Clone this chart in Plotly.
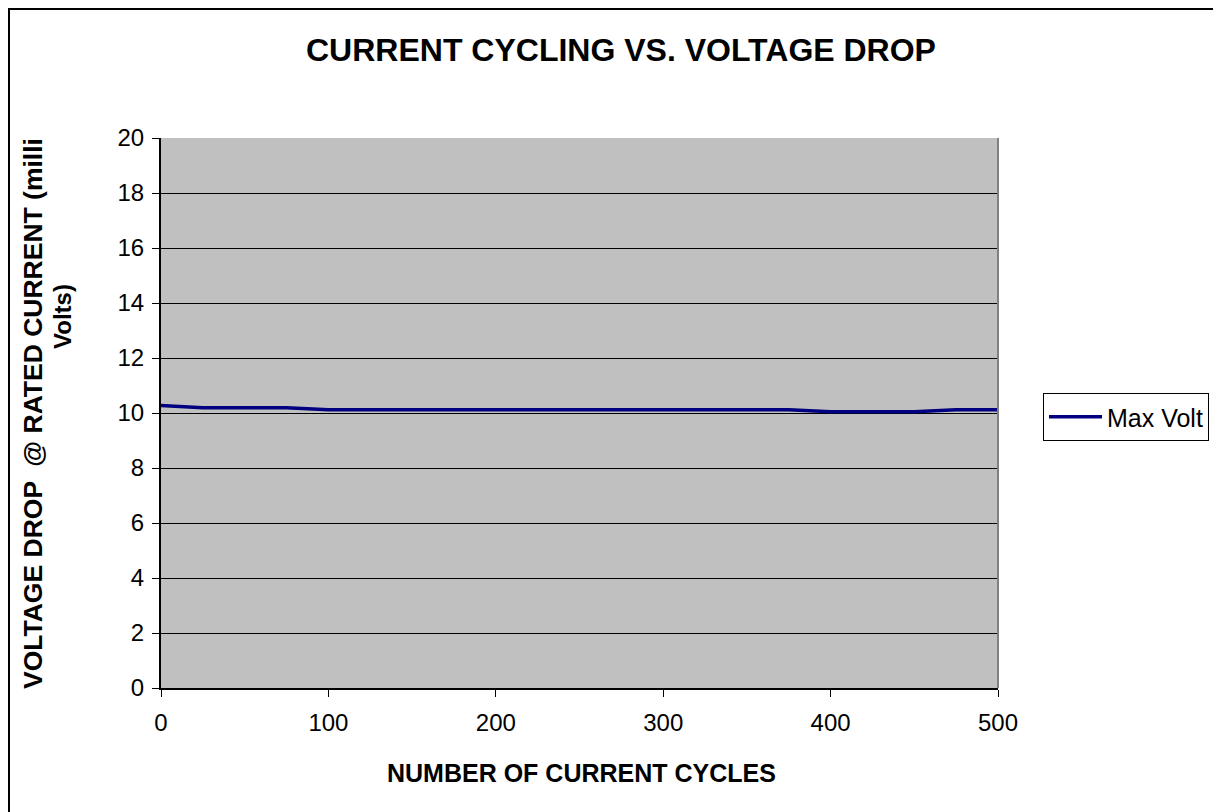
import plotly.graph_objects as go

cycles = [0, 25, 50, 75, 100, 125, 150, 175, 200, 225, 250, 275, 300, 325, 350, 375, 400, 425, 450, 475, 500]
max_volt = [10.27, 10.19, 10.19, 10.19, 10.12, 10.12, 10.12, 10.12, 10.12, 10.12, 10.12, 10.12, 10.12,
            10.12, 10.12, 10.12, 10.05, 10.05, 10.05, 10.12, 10.12]
x_ticks = [0, 100, 200, 300, 400, 500]
y_ticks = [0, 2, 4, 6, 8, 10, 12, 14, 16, 18, 20]

FONT = "Liberation Sans, Arial, sans-serif"

# page body has an 8px margin, so shift everything by -8px
OFF = 8
FW, FH = 1221 - OFF, 812 - OFF
L, T = 161 - OFF, 138 - OFF
W, H = 837, 550
R, B = FW - L - W, FH - T - H

def px(x):
    return (x - OFF - L) / W

def py(y):
    return (FH - B - (y - OFF)) / H

fig = go.Figure()
fig.add_trace(go.Scatter(x=cycles, y=max_volt, mode="lines", name="Max Volt",
                         line=dict(color="#000080", width=3.5)))

fig.update_layout(
    width=FW, height=FH,
    margin=dict(l=L, r=R, t=T, b=B, autoexpand=False),
    paper_bgcolor="white", plot_bgcolor="#C0C0C0",
    font=dict(family=FONT, size=24, color="black"),
    showlegend=True,
    legend=dict(x=px(1043), xanchor="left", y=py(417), yanchor="middle",
                bordercolor="black", borderwidth=1, bgcolor="white",
                font=dict(size=25), tracegroupgap=0, itemwidth=53),
    xaxis=dict(range=[0, 500], tickvals=x_ticks, showgrid=False, zeroline=False,
               showline=True, linecolor="black", linewidth=2, ticks="outside",
               ticklen=7, tickwidth=1, tickcolor="black", ticklabelstandoff=5),
    yaxis=dict(range=[0, 20], tickvals=y_ticks, showgrid=True, gridcolor="black", gridwidth=1,
               zeroline=False, showline=True, linecolor="black", linewidth=2,
               ticks="outside", ticklen=7, tickwidth=1, tickcolor="black", ticklabelstandoff=3),
)

fig.add_annotation(text="<b>CURRENT CYCLING VS. VOLTAGE DROP</b>", xref="paper", yref="paper",
                   x=px(621), y=py(50), showarrow=False, xanchor="center", yanchor="middle",
                   font=dict(size=32))
fig.add_annotation(text="<b>NUMBER OF CURRENT CYCLES</b>", xref="paper", yref="paper",
                   x=px(581), y=py(773), showarrow=False, xanchor="center", yanchor="middle",
                   font=dict(size=25))
fig.add_annotation(text="<b>VOLTAGE DROP  @ RATED CURRENT (milli</b>", xref="paper", yref="paper",
                   x=px(33), y=py(414), textangle=-90, showarrow=False,
                   xanchor="center", yanchor="middle", font=dict(size=26.5))
fig.add_annotation(text="<b>Volts)</b>", xref="paper", yref="paper",
                   x=px(62), y=py(317), textangle=-90, showarrow=False,
                   xanchor="center", yanchor="middle", font=dict(size=24))

# plot area right border
fig.add_shape(type="line", xref="paper", yref="paper", x0=1, x1=1, y0=0, y1=1,
              line=dict(color="#808080", width=2))
# outer chart border (as close to the page edge as the figure allows)
fig.add_shape(type="rect", xref="paper", yref="paper",
              x0=px(OFF + 1), y0=py(1000), x1=px(1400), y1=py(OFF + 1),
              line=dict(color="black", width=2), layer="below")

fig.write_html("out.html")
